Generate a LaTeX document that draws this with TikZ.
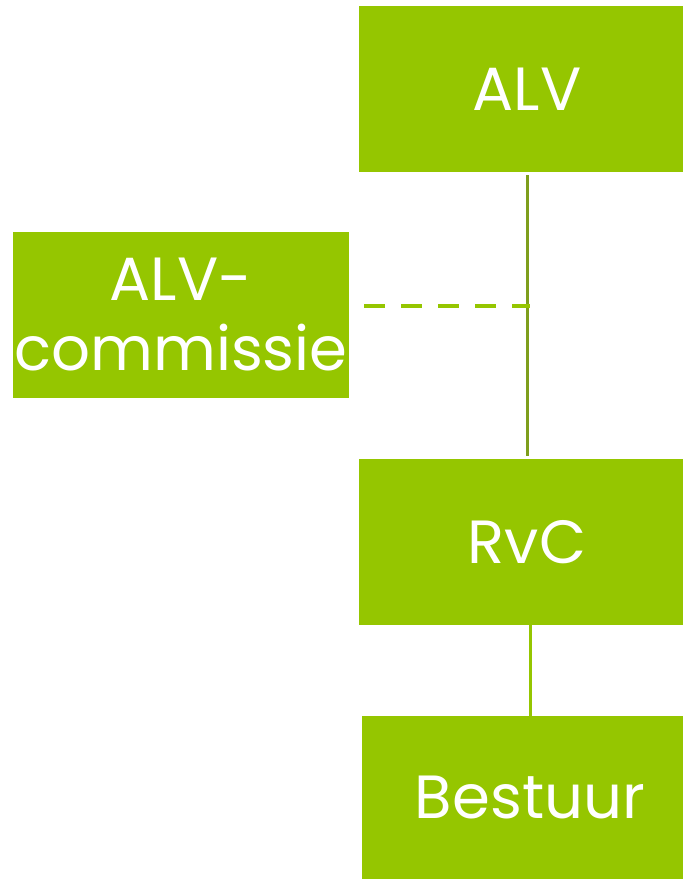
\documentclass[tikz,border=0pt]{standalone}
\usepackage{fontspec}
\setmainfont{Poppins}
\definecolor{boxgreen}{HTML}{95C600}
\definecolor{linegreen}{HTML}{7E9E1C}
\begin{document}
\begin{tikzpicture}[x=1pt,y=-1pt,
  orgbox/.style={fill=boxgreen, draw=none, text=white, minimum width=336pt, minimum height=166pt, inner sep=0pt, align=center, font=\fontsize{61}{70}\selectfont},
  solidlink/.style={draw=linegreen, line width=3pt},
  lightlink/.style={draw=boxgreen, line width=3pt},
  dashlink/.style={draw=boxgreen, line width=4pt, dash pattern=on 21pt off 16pt}]
\useasboundingbox (0,0) rectangle (683,879);
\fill[white] (0,0) rectangle (683,879);
\node[orgbox] (alv) at (527,89) {ALV};
\node[orgbox, text width=336pt] (comm) at (181,315) {ALV-\\commissie};
\node[orgbox] (rvc) at (527,542) {RvC};
\node[orgbox, minimum height=163pt] (best) at (530,797.5) {Bestuur};
\draw[solidlink, shorten <=3pt, shorten >=3pt] (alv.south) -- (rvc.north);
\coordinate (dashend) at (530,306);
\draw[dashlink] ([xshift=15pt]comm.east |- dashend) -- (dashend);
\draw[lightlink] (rvc.south -| best.north) -- (best.north);
\end{tikzpicture}
\end{document}
